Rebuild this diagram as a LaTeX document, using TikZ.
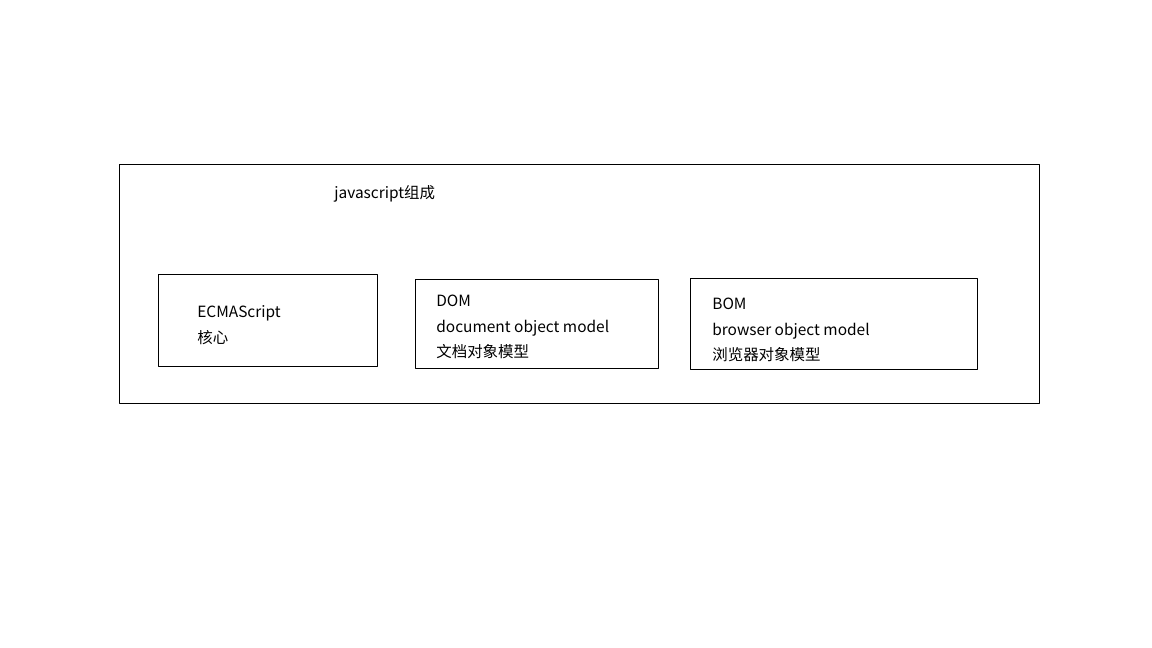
\documentclass[tikz,border=0pt]{standalone}
\usepackage{fontspec}
\setmainfont{Noto Sans CJK SC}
\begin{document}
\begin{tikzpicture}[x=0.02cm, y=-0.02cm, line join=round, font=\fontsize{8.8}{14.7}\selectfont]
			\tikzset{frame/.style={draw, line width=0.45pt}, label text/.style={anchor=west, align=left, inner sep=0pt}}
			\useasboundingbox (0,0) rectangle (1152,648);
			% outer frame
			\draw[frame] (119,164) rectangle (1039,403);
			\node[label text] (title) at (334,194) {javascript组成};
			% the three parts
			\draw[frame] (158,274) rectangle (377,366);
			\draw[frame] (415,279) rectangle (658,368);
			\draw[frame] (690,278) rectangle (977,369);
			\node[label text] (ecma) at (197,325) {ECMAScript\\核心};
			\node[label text] (dom) at (436,327) {DOM\\document object model\\文档对象模型};
			\node[label text] (bom) at (712,330) {BOM\\browser object model\\浏览器对象模型};
		\end{tikzpicture}
\end{document}
